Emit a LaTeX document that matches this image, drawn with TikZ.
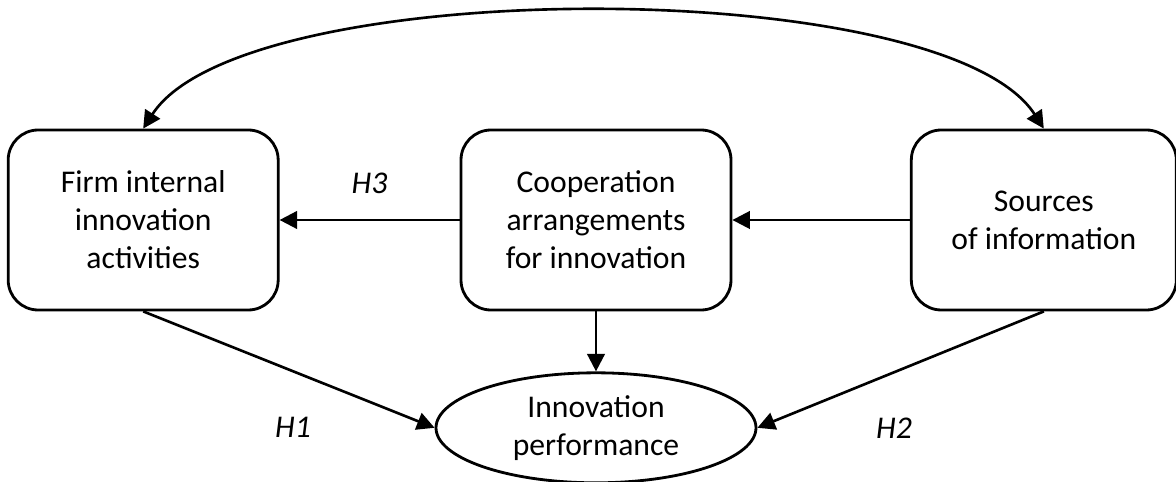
\documentclass[tikz,border=0pt]{standalone}
\usepackage{fontspec}
\setmainfont{Carlito}
\usepackage{xcolor}
\usepackage{tikz}
\usetikzlibrary{positioning,shapes.geometric,arrows.meta}

\begin{document}
\begin{tikzpicture}[
    node distance=3.6cm,
    >={Triangle[length=10pt,width=10pt]},
    box/.style={rectangle, draw, line width=1.6pt, rounded corners=0.6cm, minimum width=5.4cm, minimum height=3.6cm, align=center, font=\fontsize{18}{21.6}\selectfont},
    outcome/.style={ellipse, draw, line width=1.6pt, minimum width=6.4cm, minimum height=2.2cm, inner sep=0pt, align=center, font=\fontsize{18}{21.6}\selectfont},
    hyp/.style={font=\fontsize{18}{21.6}\selectfont\itshape},
    link/.style={->, line width=1.5pt}
]
\useasboundingbox (0,0) rectangle (23.52,9.64);

% Main boxes
\node[box] (coop) at (11.92,5.24) {Cooperation\\arrangements\\for innovation};
\node[box, left=of coop] (firm) {Firm internal\\innovation\\activities};
\node[box, right=3.55cm of coop, minimum width=5.3cm] (src) {Sources\\of information};

% Outcome
\node[outcome, below=1.2cm of coop] (perf) {Innovation\\performance};

% Arrows
\draw[link] (coop) -- node[hyp, above=0.38cm] (h3) {H3} (firm);
\draw[link] (src) -- (coop);
\draw[link] (coop) -- (perf);
\draw[link] (firm.south) -- (perf.west);
\draw[link] (src.south) -- (perf.east);

% Hypothesis labels
\node[hyp, left=2.35cm of perf.west] (h1) {H1};
\node[hyp, right=2.25cm of perf.east] (h2) {H2};

% Link between the outer boxes
\draw[link, <->] (firm.north) .. controls +(2,3.1) and +(-2,3.1) .. (src.north);

\end{tikzpicture}
\end{document}
